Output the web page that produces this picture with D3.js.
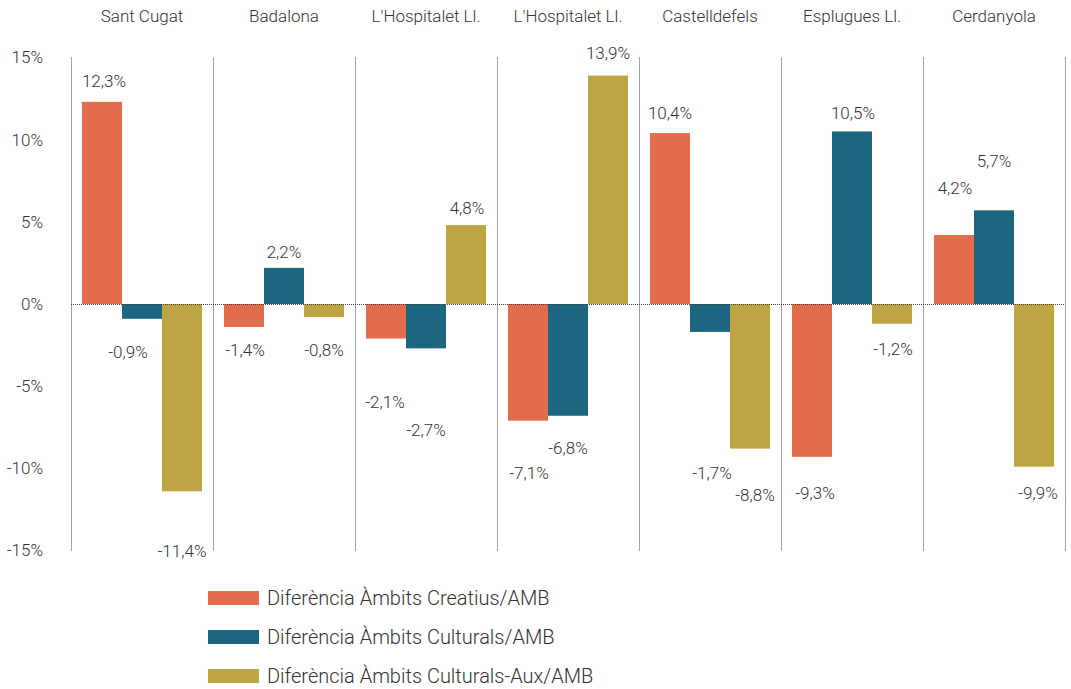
<!DOCTYPE html>
<html>
<head>
<meta charset="utf-8">
<script src="https://cdn.jsdelivr.net/npm/d3@7"></script>
<style>
  body { margin: 0; background: #fff; }
  svg text { font-family: Roboto, "Open Sans", sans-serif; font-weight: 300; fill: #333; }
</style>
</head>
<body>
<svg id="chart" width="1071" height="689"></svg>
<script>
var cities = ["Sant Cugat", "Badalona", "L'Hospitalet Ll.", "L'Hospitalet Ll.", "Castelldefels", "Esplugues Ll.", "Cerdanyola"];
var seriesNames = ["Diferència Àmbits Creatius/AMB", "Diferència Àmbits Culturals/AMB", "Diferència Àmbits Culturals-Aux/AMB"];
var creatius = [12.3, -1.4, -2.1, -7.1, 10.4, -9.3, 4.2];
var culturals = [-0.9, 2.2, -2.7, -6.8, -1.7, 10.5, 5.7];
var culturalsAux = [-11.4, -0.8, 4.8, 13.9, -8.8, -1.2, -9.9];
var yTicks = [15, 10, 5, 0, -5, -10, -15];

// label placement (pixel offsets), the source chart had hand-moved labels
var labelDx = [
  [2, -14, 0], [1, 0, 0], [-1, 0, 1], [1, 0, 0], [0, 2, 5], [3, 1, 1], [1, 0, 4]
];
var labelY = [
  [81, 352, 551], [350, 252, 350], [402, 430, 208], [473, 448, 53], [113, 473, 495], [493, 113, 349], [188, 161, 493]
];

var colors = ["#e36c4c", "#1c6680", "#bea443"];
var series = [creatius, culturals, culturalsAux];

var svg = d3.select("#chart");
var left = 71, right = 1065;

var x = d3.scaleBand().domain(d3.range(cities.length)).range([left, right]);
var xs = d3.scaleBand().domain([0, 1, 2]).range([11, x.bandwidth() - 11]);
var y = d3.scaleLinear().domain([-15, 15]).range([550.5, 57.5]);

var fmt = function(v) { return String(v.toFixed(1)).replace(".", ",") + "%"; };

// y axis labels
svg.append("g").selectAll("text")
    .data(yTicks)
  .enter().append("text")
    .attr("x", 43)
    .attr("y", function(d) { return y(d); })
    .attr("dy", "0.35em")
    .attr("text-anchor", "end")
    .style("font-size", "17px")
    .text(function(d) { return d + "%"; });

// category titles
svg.append("g").selectAll("text")
    .data(cities)
  .enter().append("text")
    .attr("x", function(d, i) { return x(i) + x.bandwidth() / 2; })
    .attr("y", 22)
    .attr("text-anchor", "middle")
    .style("font-size", "17px")
    .text(function(d) { return d; });

// separators
svg.append("g").selectAll("line")
    .data(d3.range(cities.length + 1))
  .enter().append("line")
    .attr("x1", function(i) { return Math.round(i < cities.length ? x(i) : right) + 0.5; })
    .attr("x2", function(i) { return Math.round(i < cities.length ? x(i) : right) + 0.5; })
    .attr("y1", y(15))
    .attr("y2", y(-15))
    .attr("stroke", "#444")
    .attr("stroke-width", 1)
    .attr("stroke-dasharray", "1,1");

// bars
var groups = svg.append("g").selectAll("g")
    .data(cities)
  .enter().append("g")
    .attr("transform", function(d, i) { return "translate(" + x(i) + ",0)"; });

groups.each(function(c, i) {
  var g = d3.select(this);
  series.forEach(function(s, k) {
    var v = s[i];
    g.append("rect")
      .attr("x", xs(k))
      .attr("width", xs.bandwidth())
      .attr("y", y(Math.max(0, v)))
      .attr("height", Math.abs(y(v) - y(0)))
      .attr("fill", colors[k]);
    g.append("text")
      .attr("x", xs(k) + xs.bandwidth() / 2 + labelDx[i][k])
      .attr("y", labelY[i][k])
      .attr("dy", "0.35em")
      .attr("text-anchor", "middle")
      .style("font-size", "17px")
      .text(fmt(v));
  });
});

// zero line
svg.append("line")
    .attr("x1", left).attr("x2", right)
    .attr("y1", Math.round(y(0)) + 0.5).attr("y2", Math.round(y(0)) + 0.5)
    .attr("stroke", "#444")
    .attr("stroke-dasharray", "1,1");

// legend
var legend = svg.append("g").selectAll("g")
    .data(seriesNames)
  .enter().append("g")
    .attr("transform", function(d, i) { return "translate(208," + (598 + i * 39) + ")"; });

legend.append("rect")
    .attr("x", 0).attr("y", -7)
    .attr("width", 51).attr("height", 14)
    .attr("fill", function(d, i) { return colors[i]; });

legend.append("text")
    .attr("x", 59)
    .attr("dy", "0.35em")
    .style("font-size", "20px")
    .text(function(d) { return d; });
</script>
</body>
</html>
